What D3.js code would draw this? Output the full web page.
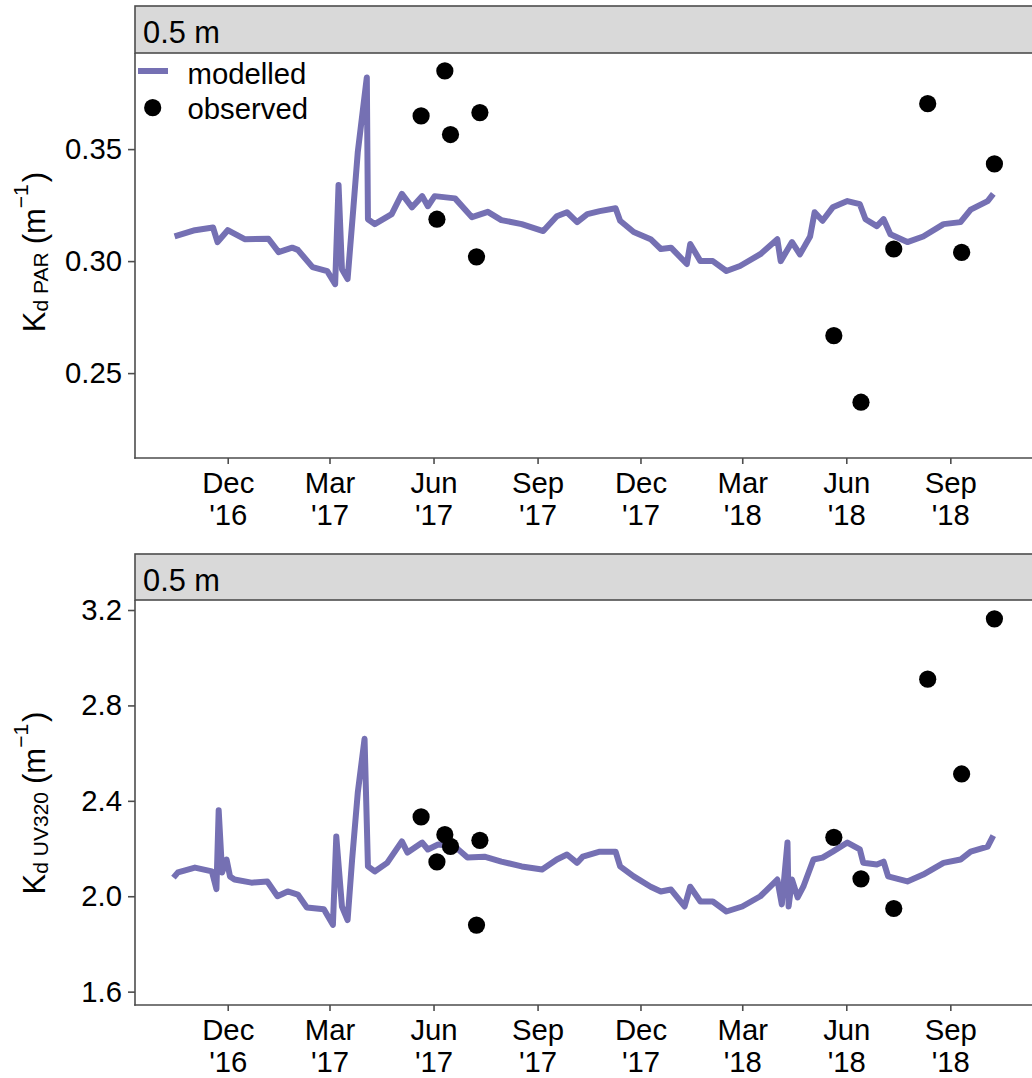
<!DOCTYPE html>
<html>
<head>
<meta charset="utf-8">
<script src="https://cdn.jsdelivr.net/npm/d3@7"></script>
<style>
body { margin: 0; background: #fff; }
svg { display: block; }
text { font-family: "Liberation Sans", Arial, sans-serif; }
</style>
</head>
<body>
<div id="chart"></div>
<script>
// modelled Kd PAR
var parDates = ["2016-10-15","2016-11-02","2016-11-18","2016-11-22","2016-12-01","2016-12-16",
  "2017-01-06","2017-01-15","2017-01-27","2017-02-01","2017-02-14","2017-02-27","2017-03-06",
  "2017-03-09","2017-03-12","2017-03-17","2017-03-22","2017-03-26","2017-04-03","2017-04-04",
  "2017-04-10","2017-04-25","2017-05-04","2017-05-13","2017-05-22","2017-05-27","2017-06-02",
  "2017-06-20","2017-07-05","2017-07-19","2017-07-31","2017-08-18","2017-09-06","2017-09-18",
  "2017-09-27","2017-10-06","2017-10-15","2017-10-26","2017-11-09","2017-11-13","2017-11-25",
  "2017-12-10","2017-12-19","2017-12-28","2018-01-11","2018-01-14","2018-01-23","2018-02-03",
  "2018-02-15","2018-02-27","2018-03-17","2018-04-01","2018-04-04","2018-04-14","2018-04-21",
  "2018-04-30","2018-05-04","2018-05-11","2018-05-20","2018-06-02","2018-06-13","2018-06-18",
  "2018-06-28","2018-07-04","2018-07-10","2018-07-25","2018-08-08","2018-08-26","2018-09-10",
  "2018-09-19","2018-10-04","2018-10-09"];
var parValues = [0.311,0.3138,0.315,0.3085,0.3138,0.3098,
  0.310,0.304,0.306,0.305,0.2973,0.2955,0.2897,
  0.334,0.2964,0.292,0.323,0.3486,0.382,0.3187,
  0.3165,0.321,0.330,0.324,0.329,0.3245,0.329,
  0.328,0.3196,0.322,0.3183,0.3165,0.3134,0.320,
  0.3218,0.3174,0.321,0.3223,0.3236,0.318,0.313,
  0.3098,0.3054,0.306,0.2987,0.3076,0.300,0.300,
  0.2956,0.2978,0.3031,0.3098,0.300,0.3085,0.303,
  0.311,0.3218,0.318,0.324,0.3268,0.3254,0.3187,
  0.3156,0.3187,0.312,0.3085,0.311,0.3165,0.3174,
  0.323,0.3268,0.330];

// modelled Kd UV320
var uvDates = ["2016-10-14","2016-10-18","2016-11-02","2016-11-17","2016-11-21","2016-11-23",
  "2016-11-26","2016-11-30","2016-12-03","2016-12-07","2016-12-22","2017-01-05","2017-01-14",
  "2017-01-23","2017-02-01","2017-02-09","2017-02-24","2017-03-04","2017-03-07","2017-03-12",
  "2017-03-17","2017-03-21","2017-03-26","2017-04-01","2017-04-04","2017-04-10","2017-04-21",
  "2017-05-04","2017-05-09","2017-05-22","2017-05-27","2017-06-05","2017-06-20","2017-07-01",
  "2017-07-16","2017-07-31","2017-08-18","2017-09-05","2017-09-18","2017-09-27","2017-10-06",
  "2017-10-11","2017-10-26","2017-11-09","2017-11-13","2017-11-25","2017-12-10","2017-12-19",
  "2017-12-28","2018-01-09","2018-01-14","2018-01-23","2018-02-03","2018-02-15","2018-03-01",
  "2018-03-17","2018-04-01","2018-04-05","2018-04-10","2018-04-11","2018-04-14","2018-04-19",
  "2018-04-24","2018-05-03","2018-05-11","2018-05-20","2018-06-02","2018-06-13","2018-06-16",
  "2018-06-28","2018-07-04","2018-07-08","2018-07-25","2018-08-08","2018-08-26","2018-09-10",
  "2018-09-19","2018-10-04","2018-10-09"];
var uvValues = [2.078,2.10,2.12,2.104,2.03,2.36,
  2.10,2.154,2.083,2.07,2.057,2.062,2.0,
  2.02,2.007,1.953,1.945,1.88,2.25,1.957,
  1.90,2.154,2.434,2.66,2.125,2.104,2.14,
  2.23,2.183,2.225,2.196,2.217,2.208,2.162,
  2.166,2.145,2.125,2.112,2.154,2.175,2.14,
  2.166,2.187,2.187,2.125,2.083,2.04,2.02,
  2.028,1.957,2.04,1.978,1.978,1.936,1.957,
  2.0,2.07,1.966,2.225,1.957,2.07,1.995,
  2.04,2.154,2.162,2.187,2.225,2.196,2.14,
  2.133,2.145,2.083,2.062,2.091,2.14,2.154,
  2.187,2.208,2.254];

// observed profiles
var obsDates = ["2017-05-21","2017-06-04","2017-06-11","2017-06-16","2017-07-09","2017-07-12",
  "2018-05-21","2018-06-14","2018-07-13","2018-08-12","2018-09-11","2018-10-10"];
var obsPar = [0.3648,0.3187,0.3849,0.3565,0.3019,0.3663,
  0.2667,0.237,0.3054,0.3703,0.3039,0.3434];
var obsUv = [2.3325,2.144,2.258,2.209,1.879,2.2345,
  2.247,2.073,1.9485,2.910,2.5126,3.163];

var xTickDates = ["2016-12-01","2017-03-01","2017-06-01","2017-09-01","2017-12-01",
  "2018-03-01","2018-06-01","2018-09-01"];
var xTickMonths = ["Dec","Mar","Jun","Sep","Dec","Mar","Jun","Sep"];
var xTickYears = ["'16","'17","'17","'17","'17","'18","'18","'18"];
var parTicks = [0.25, 0.30, 0.35];
var uvTicks = [1.6, 2.0, 2.4, 2.8, 3.2];
var stripLabel = "0.5 m";
var legendLabels = ["modelled", "observed"];

var W = 1032, H = 1078;
var lineColor = "#7570B3";
var axisColor = "#4d4d4d";
var fs = 29.3;
var parse = d3.utcParse("%Y-%m-%d");

var svg = d3.select("#chart").append("svg")
    .attr("width", W)
    .attr("height", H);

var x = d3.scaleUtc()
    .domain([parse("2016-09-10"), parse("2018-11-14")])
    .range([135, 1034]);

function drawPanel(cfg) {
    var y = d3.scaleLinear()
        .domain(cfg.yDomain)
        .range([cfg.bottom, cfg.top]);

    // strip
    svg.append("rect")
        .attr("x", 135).attr("y", cfg.stripTop)
        .attr("width", 920).attr("height", cfg.top - cfg.stripTop)
        .attr("fill", "#d9d9d9")
        .attr("stroke", axisColor)
        .attr("stroke-width", 1.6);
    svg.append("text")
        .attr("x", 143).attr("y", cfg.stripTop + 37)
        .attr("font-size", 30.8)
        .text(stripLabel);

    // modelled line
    var pts = cfg.dates.map(function(d, i) {
        return { date: parse(d), v: cfg.values[i] };
    });
    svg.append("path")
        .datum(pts)
        .attr("fill", "none")
        .attr("stroke", lineColor)
        .attr("stroke-width", 6)
        .attr("stroke-linejoin", "round")
        .attr("d", d3.line()
            .x(function(d) { return x(d.date); })
            .y(function(d) { return y(d.v); }));

    // observed points
    svg.append("g").selectAll("circle")
        .data(obsDates.map(function(d, i) { return { date: parse(d), v: cfg.obs[i] }; }))
        .enter().append("circle")
        .attr("cx", function(d) { return x(d.date); })
        .attr("cy", function(d) { return y(d.v); })
        .attr("r", 8.6)
        .attr("fill", "#000");

    // y axis
    var gy = svg.append("g")
        .attr("transform", "translate(135,0)")
        .call(d3.axisLeft(y).tickValues(cfg.ticks).tickFormat(d3.format(cfg.fmt))
            .tickSize(7).tickPadding(6).tickSizeOuter(0));
    gy.select(".domain").remove();
    gy.selectAll(".tick line").attr("stroke", axisColor).attr("stroke-width", 1.6);
    gy.selectAll(".tick text").attr("font-size", fs).attr("fill", "#000")
        .attr("font-family", "Liberation Sans, Arial, sans-serif");

    // x axis
    var gx = svg.append("g")
        .attr("transform", "translate(0," + cfg.bottom + ")")
        .call(d3.axisBottom(x).tickValues(xTickDates.map(parse)).tickFormat("")
            .tickSize(6).tickSizeOuter(0));
    gx.select(".domain").remove();
    gx.selectAll(".tick line").attr("stroke", axisColor).attr("stroke-width", 1.6);
    gx.selectAll(".tick").each(function(d, i) {
        var t = d3.select(this).append("text")
            .attr("fill", "#000")
            .attr("font-size", fs)
            .attr("text-anchor", "middle");
        t.append("tspan").attr("x", 0).attr("y", 35).text(xTickMonths[i]);
        t.append("tspan").attr("x", 0).attr("y", 67).text(xTickYears[i]);
    });

    // axis lines
    svg.append("line")
        .attr("x1", 135).attr("x2", 135)
        .attr("y1", cfg.top).attr("y2", cfg.bottom + 0.8)
        .attr("stroke", axisColor).attr("stroke-width", 1.6);
    svg.append("line")
        .attr("x1", 134.2).attr("x2", W)
        .attr("y1", cfg.bottom).attr("y2", cfg.bottom)
        .attr("stroke", axisColor).attr("stroke-width", 1.6);

    // y title
    var tt = svg.append("text")
        .attr("transform", "translate(45," + cfg.titleY + ") rotate(-90)")
        .attr("text-anchor", "middle")
        .attr("font-size", 31)
        .attr("fill", "#000");
    tt.append("tspan").text("K");
    tt.append("tspan").attr("font-size", 21).attr("dy", 3).text(cfg.sub);
    tt.append("tspan").attr("dx", 8).attr("dy", -3).text("(m");
    tt.append("tspan").attr("font-size", 21).attr("dy", -17).text("\u22121");
    tt.append("tspan").attr("dx", 2).attr("dy", 17).text(")");

    return y;
}

drawPanel({
    stripTop: 6, top: 53, bottom: 458,
    yDomain: [0.2121, 0.3929],
    ticks: parTicks, fmt: ".2f",
    dates: parDates, values: parValues, obs: obsPar,
    sub: "d PAR", titleY: 252
});

drawPanel({
    stripTop: 554, top: 600, bottom: 1005,
    yDomain: [1.544, 3.242],
    ticks: uvTicks, fmt: ".1f",
    dates: uvDates, values: uvValues, obs: obsUv,
    sub: "d UV320", titleY: 803
});

// legend in the top panel
svg.append("line")
    .attr("x1", 138).attr("x2", 168)
    .attr("y1", 71).attr("y2", 71)
    .attr("stroke", lineColor).attr("stroke-width", 6);
svg.append("circle")
    .attr("cx", 152.7).attr("cy", 107.7).attr("r", 8.6)
    .attr("fill", "#000");
svg.selectAll(".leg")
    .data(legendLabels)
    .enter().append("text")
    .attr("class", "leg")
    .attr("x", 187.5)
    .attr("y", function(d, i) { return 83.5 + i * 35; })
    .attr("font-size", fs)
    .text(function(d) { return d; });
</script>
</body>
</html>
